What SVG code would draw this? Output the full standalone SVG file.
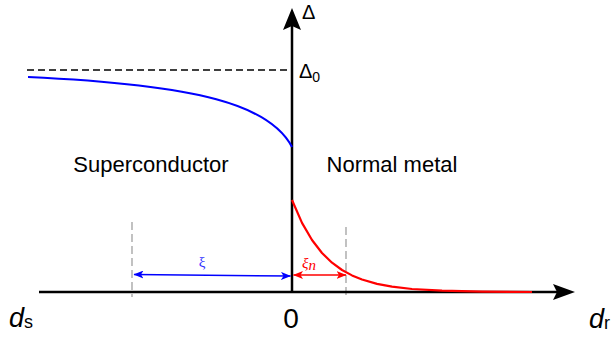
<svg xmlns="http://www.w3.org/2000/svg" width="615" height="337" viewBox="0 0 615 337">
<defs>
<style>
.lbl{font-family:"Liberation Sans",Arial,sans-serif;fill:#000}
.axis{stroke:#000;stroke-width:2.5;fill:none}
.gdash{stroke:#999;stroke-width:1.2;stroke-dasharray:8,4;fill:none}
</style>
<marker id="bh" viewBox="0 0 10 8" refX="9.5" refY="4" markerWidth="10" markerHeight="8" markerUnits="userSpaceOnUse" orient="auto-start-reverse"><path d="M0,0 L10,4 L0,8 L2.5,4 Z" fill="#0000ff"/></marker>
<marker id="rh" viewBox="0 0 10 8" refX="9.5" refY="4" markerWidth="10" markerHeight="8" markerUnits="userSpaceOnUse" orient="auto-start-reverse"><path d="M0,0 L10,4 L0,8 L2.5,4 Z" fill="#ff0000"/></marker>
</defs>
<rect width="615" height="337" fill="#fff"/>
<g id="connectors">
<line x1="27" y1="70" x2="292" y2="70" stroke="#000" stroke-width="1.5" stroke-dasharray="7,4"/>
<line class="gdash" x1="132" y1="222" x2="132" y2="297"/>
<line class="gdash" x1="346" y1="227" x2="346" y2="295"/>
<line class="axis" x1="39" y1="292" x2="560" y2="292"/>
<path d="M575,292 L553,284 L557,292 L553,300 Z" fill="#000"/>
<line class="axis" x1="292" y1="292" x2="292" y2="24"/>
<path d="M292,8 L283,30 L292,26 L301,30 Z" fill="#000"/>
<path d="M28,77 C200,85 270,105 292,147" fill="none" stroke="#0000ff" stroke-width="2.2"/>
<path d="M292,200 L302,222.9 L312,240 L322,253 L332,262.7 L342,270 L352,275.4 L362,279.5 L377,283.9 L392,286.7 L412,289 L442,290.7 L482,291.6 L532,292" fill="none" stroke="#ff0000" stroke-width="2.2" stroke-linejoin="round"/>
<line x1="134" y1="274.5" x2="290.5" y2="276" stroke="#0000ff" stroke-width="1.5" marker-start="url(#bh)" marker-end="url(#bh)"/>
<line x1="293.5" y1="275" x2="346" y2="275" stroke="#ff0000" stroke-width="1.5" marker-start="url(#rh)" marker-end="url(#rh)"/>
</g>
<g id="label-delta"><text class="lbl" x="302" y="19" font-size="20">Δ</text></g>
<g id="label-delta0"><text class="lbl" x="299" y="78" font-size="20">Δ<tspan font-size="14" dy="4">0</tspan></text></g>
<g id="label-superconductor"><text class="lbl" x="151" y="172" font-size="22" text-anchor="middle">Superconductor</text></g>
<g id="label-normal"><text class="lbl" x="392" y="172" font-size="22" text-anchor="middle">Normal metal</text></g>
<g id="label-xi"><text x="202" y="267" font-size="15" text-anchor="middle" fill="#3333ff" font-family="'Liberation Serif','DejaVu Serif',serif">ξ</text></g>
<g id="label-xin"><text x="302" y="268" font-size="15" fill="#ff0000" font-style="italic" font-family="'Liberation Serif','DejaVu Serif',serif">ξ<tspan dy="2">n</tspan></text></g>
<g id="label-ds"><text class="lbl" x="9" y="327" font-size="27" font-style="italic">d<tspan font-style="normal" font-size="18" dy="1">s</tspan></text></g>
<g id="label-zero"><text class="lbl" x="291" y="328" font-size="28" text-anchor="middle">0</text></g>
<g id="label-dr"><text class="lbl" x="589" y="328" font-size="27" font-style="italic">d<tspan font-style="normal" font-size="18" dy="1">r</tspan></text></g>
</svg>
